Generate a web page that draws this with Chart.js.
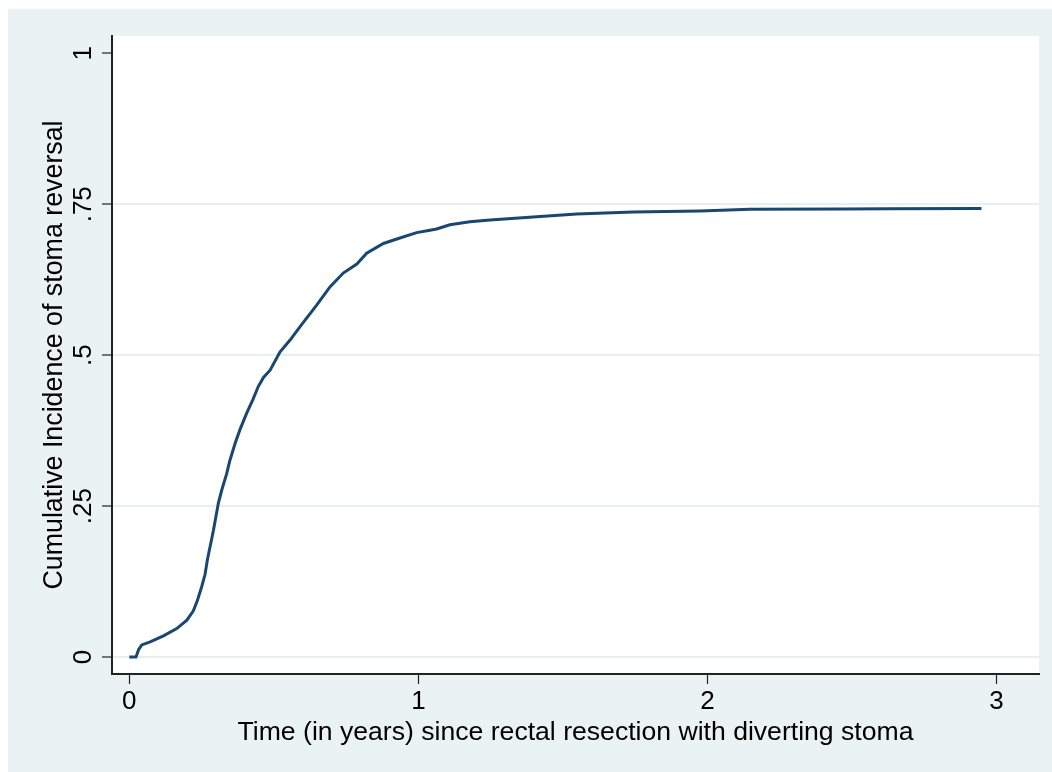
<!DOCTYPE html>
<html>
<head>
<meta charset="utf-8">
<script src="https://cdn.jsdelivr.net/npm/chart.js@4/dist/chart.umd.min.js"></script>
<style>
html,body{margin:0;padding:0;background:#ffffff;}
canvas{display:block;}
</style>
</head>
<body>
<canvas id="c" width="1052" height="772"></canvas>
<script>
// Time (years) since rectal resection
const times = [0, 0.023, 0.032, 0.043, 0.072, 0.118, 0.164, 0.199, 0.221, 0.235, 0.250, 0.262, 0.270, 0.291, 0.308, 0.320, 0.337, 0.348, 0.366, 0.383, 0.406, 0.427, 0.446, 0.464, 0.487, 0.521, 0.556, 0.590, 0.648, 0.694, 0.740, 0.787, 0.821, 0.879, 0.936, 0.994, 1.040, 1.063, 1.109, 1.178, 1.248, 1.397, 1.548, 1.743, 1.974, 2.147, 2.469, 2.631, 2.948];
// Cumulative incidence of stoma reversal
const cumInc = [0, 0, 0.012, 0.020, 0.025, 0.035, 0.047, 0.061, 0.076, 0.093, 0.116, 0.137, 0.161, 0.210, 0.255, 0.277, 0.304, 0.326, 0.354, 0.377, 0.404, 0.426, 0.448, 0.463, 0.475, 0.505, 0.525, 0.547, 0.583, 0.613, 0.636, 0.651, 0.669, 0.685, 0.694, 0.703, 0.707, 0.709, 0.716, 0.721, 0.724, 0.729, 0.734, 0.737, 0.739, 0.7415, 0.742, 0.7426, 0.743];
const xTickValues = [0, 1, 2, 3];
const xTickLabels = ['0', '1', '2', '3'];
const yTickValues = [0, 0.25, 0.5, 0.75, 1];
const yTickLabels = ['0', '.25', '.5', '.75', '1'];
const xTitle = 'Time (in years) since rectal resection with diverting stoma';
const yTitle = 'Cumulative Incidence of stoma reversal';

const points = times.map((t, i) => ({x: t, y: cumInc[i]}));
const FONT = '"Liberation Sans", Arial, Helvetica, sans-serif';

const bgPlugin = {
  id: 'bg',
  beforeDraw(chart) {
    const ctx = chart.ctx;
    const a = chart.chartArea;
    ctx.save();
    ctx.fillStyle = '#ffffff';
    ctx.fillRect(0, 0, chart.width, chart.height);
    ctx.fillStyle = '#eaf2f3';
    ctx.fillRect(8, 9, chart.width - 8, chart.height - 9);
    ctx.fillStyle = '#ffffff';
    ctx.fillRect(a.left, a.top, a.right - a.left, a.bottom - a.top);
    ctx.restore();
  }
};

new Chart(document.getElementById('c'), {
  type: 'line',
  data: {
    datasets: [{
      data: points,
      borderColor: '#1a476f',
      borderWidth: 3,
      pointRadius: 0,
      tension: 0,
      fill: false
    }]
  },
  options: {
    responsive: false,
    devicePixelRatio: 1,
    animation: false,
    layout: {padding: {left: 8, top: 36, right: 13, bottom: 0}},
    plugins: {legend: {display: false}, tooltip: {enabled: false}},
    scales: {
      x: {
        type: 'linear',
        min: -0.06,
        max: 3.147,
        afterBuildTicks(s) { s.ticks = xTickValues.map(v => ({value: v})); },
        afterFit(s) { s.height = 98; },
        ticks: {
          callback: (v, i) => xTickLabels[i],
          color: '#000',
          font: {family: FONT, size: 26},
          padding: 2,
          maxRotation: 0
        },
        grid: {drawOnChartArea: false, drawTicks: true, tickLength: 10, tickColor: '#222', tickWidth: 1.2},
        border: {display: true, color: '#222', width: 2},
        title: {display: true, text: xTitle, color: '#000', font: {family: FONT, size: 26.6}, padding: {top: 0, bottom: 23}}
      },
      y: {
        type: 'linear',
        min: -0.0282,
        max: 1.0287,
        afterBuildTicks(s) { s.ticks = yTickValues.map(v => ({value: v})); },
        afterFit(s) { s.width = 104; },
        ticks: {
          callback: (v, i) => yTickLabels[i],
          color: '#000',
          font: {family: FONT, size: 26},
          minRotation: 90,
          maxRotation: 90,
          crossAlign: 'center',
          padding: 0
        },
        grid: {
          color: c => (c.tick && c.tick.value === 1) ? 'rgba(0,0,0,0)' : '#e6eff1',
          lineWidth: 2,
          drawTicks: true,
          tickLength: 10,
          tickColor: '#222',
          tickWidth: 1.2
        },
        border: {display: true, color: '#222', width: 2},
        title: {display: true, text: yTitle, color: '#000', font: {family: FONT, size: 26.8}, padding: {top: 31, bottom: 0}}
      }
    }
  },
  plugins: [bgPlugin]
});
</script>
</body>
</html>
